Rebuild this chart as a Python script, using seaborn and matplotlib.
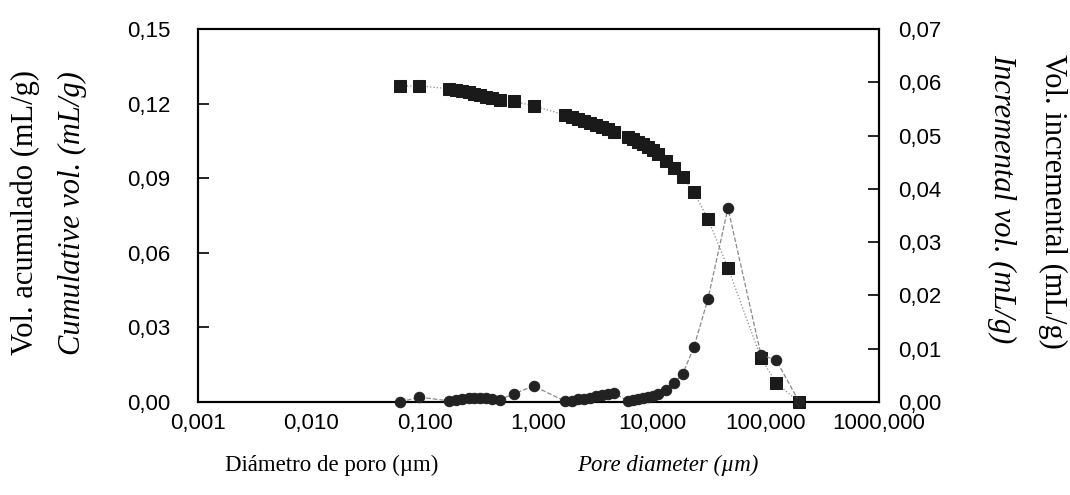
import matplotlib
matplotlib.use("Agg")
import matplotlib.pyplot as plt
from matplotlib.ticker import FuncFormatter, FixedLocator
import seaborn as sns
import pandas as pd


# pore diameter (um), cumulative and incremental intrusion volume (mL/g)
diameter = [0.0607, 0.0892,
            0.164, 0.189, 0.214, 0.242, 0.273, 0.308, 0.348, 0.393, 0.454,
            0.603, 0.905,
            1.73, 1.96, 2.21, 2.50, 2.83, 3.19, 3.61, 4.07, 4.60,
            6.11, 6.77, 7.49, 8.30, 9.18, 10.2, 11.3, 13.2, 15.6, 18.7,
            23.4, 31.1, 46.7, 91.3, 124.0, 198.0]

cum_vol = [0.1271, 0.1271,
           0.1259, 0.1255, 0.1251, 0.1245, 0.1239, 0.1235, 0.1228, 0.1222, 0.1214,
           0.1210, 0.1190,
           0.1154, 0.1146, 0.1138, 0.1130, 0.1122, 0.1114, 0.1106, 0.1096, 0.1086,
           0.1066, 0.1058, 0.1047, 0.1037, 0.1025, 0.1013, 0.0997, 0.0969, 0.0941, 0.0905,
           0.0844, 0.0736, 0.0539, 0.0177, 0.0076, 0.0]

inc_vol = [0.0, 0.0009,
           0.0002, 0.0004, 0.0005, 0.0007, 0.0008, 0.0008, 0.0008, 0.0006, 0.0004,
           0.0015, 0.0030,
           0.0001, 0.0002, 0.0005, 0.0006, 0.0008, 0.0011, 0.0013, 0.0015, 0.0017,
           0.0002, 0.0004, 0.0006, 0.0008, 0.0009, 0.0012, 0.0015, 0.0023, 0.0036, 0.0053,
           0.0103, 0.0193, 0.0364, 0.0088, 0.0079, 0.0]

xticks = [0.001, 0.01, 0.1, 1, 10, 100, 1000]
yticks_left = [0.0, 0.03, 0.06, 0.09, 0.12, 0.15]
yticks_right = [0.0, 0.01, 0.02, 0.03, 0.04, 0.05, 0.06, 0.07]

df = pd.DataFrame({"diameter": diameter, "cum": cum_vol, "inc": inc_vol})

sns.set_style("white")
plt.rcParams["font.family"] = ["Liberation Sans", "DejaVu Sans"]
plt.rcParams["text.color"] = "black"
plt.rcParams["xtick.color"] = "black"
plt.rcParams["ytick.color"] = "black"
serif = ["Liberation Serif", "DejaVu Serif"]

fig = plt.figure(figsize=(10.7, 4.95), dpi=100)
ax = fig.add_axes([0.185, 0.188, 0.6365, 0.7535])
ax2 = ax.twinx()

sns.lineplot(data=df, x="diameter", y="cum", ax=ax, sort=False,
             color="#8a8a8a", linestyle=":", linewidth=0.9,
             marker="s", markersize=8.5, markerfacecolor="#1a1a1a",
             markeredgecolor="#1a1a1a", clip_on=False, zorder=3)
sns.lineplot(data=df, x="diameter", y="inc", ax=ax2, sort=False,
             color="#8a8a8a", linestyle="--", linewidth=0.9, dashes=(4, 3),
             marker="o", markersize=7.5, markerfacecolor="#222222",
             markeredgecolor="#222222", clip_on=False, zorder=3)

ax.set_xscale("log")
ax.set_xlim(0.001, 1000)
ax.set_ylim(0, 0.15)
ax2.set_ylim(0, 0.07)

ax.xaxis.set_major_locator(FixedLocator(xticks))
ax.xaxis.set_minor_locator(FixedLocator([]))
ax.xaxis.set_major_formatter(FuncFormatter(lambda v, p: f"{v:.3f}".replace(".", ",")))
ax.set_yticks(yticks_left)
ax.yaxis.set_major_formatter(FuncFormatter(lambda v, p: f"{v:.2f}".replace(".", ",")))
ax2.set_yticks(yticks_right)
ax2.yaxis.set_major_formatter(FuncFormatter(lambda v, p: f"{v:.2f}".replace(".", ",")))

ax.tick_params(axis="x", length=0, pad=8, labelsize=16, labelcolor="black")
ax.tick_params(axis="y", direction="in", length=8, width=1.2, pad=20, labelsize=16,
               left=True, labelcolor="black")
ax2.tick_params(axis="y", direction="in", length=8, width=1.2, pad=14, labelsize=16,
                right=True, labelcolor="black")

for a in (ax, ax2):
    a.set_xlabel("")
    a.set_ylabel("")
    for s in a.spines.values():
        s.set_linewidth(1.5)
        s.set_color("black")
    a.grid(False)

fig.text(0.0234, 0.57, "Vol. acumulado (mL/g)", rotation=90, ha="center", va="center",
         fontsize=22, family=serif)
fig.text(0.0673, 0.57, "Cumulative vol. (mL/g)", rotation=90, ha="center", va="center",
         fontsize=22, family=serif, style="italic")
fig.text(0.984, 0.891, "Vol. incremental (mL/g)", rotation=-90, ha="center", va="top",
         fontsize=22, family=serif)
fig.text(0.9364, 0.891, "Incremental vol. (mL/g)", rotation=-90, ha="center", va="top",
         fontsize=22, family=serif, style="italic")
fig.text(0.3103, 0.06, "Diámetro de poro (µm)", ha="center", va="center",
         fontsize=16.5, family=serif)
fig.text(0.6243, 0.06, "Pore diameter (µm)", ha="center", va="center",
         fontsize=16.5, family=serif, style="italic")

fig.savefig("out.png", dpi=100)
